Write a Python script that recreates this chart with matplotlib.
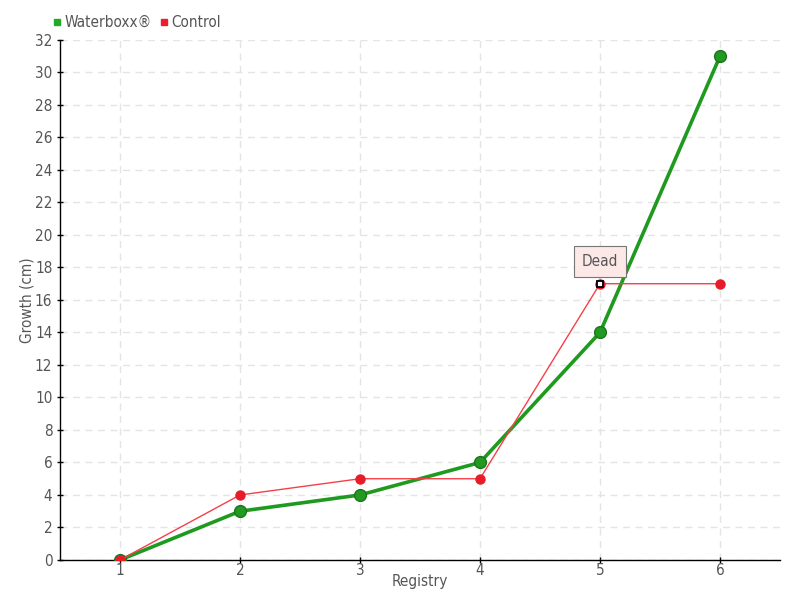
import matplotlib
matplotlib.use("Agg")
import matplotlib.pyplot as plt
from matplotlib.lines import Line2D

registry = [1, 2, 3, 4, 5, 6]
waterboxx = [0, 3, 4, 6, 14, 31]
control = [0, 4, 5, 5, 17, 17]
yticks = list(range(0, 33, 2))
annot_label = "Dead"
annot_index = 4

txt = "#555555"
fs = dict(fontstretch="condensed", family="DejaVu Sans")

fig = plt.figure(figsize=(8, 6), dpi=100)
ax = fig.add_axes([0.075, 0.0667, 0.9, 0.8667])

ax.plot(registry, waterboxx, color="#1e9a1e", lw=2.6, marker="o", ms=8.5,
        mfc="#229922", mec="#1a751a", mew=1.0, zorder=3, label="Waterboxx®")
ax.plot(registry, control, color="#f5404a", lw=1.0, marker="o", ms=6.5,
        mfc="#e81c28", mec="#e81c28", zorder=4, label="Control")

# dead marker
ax.plot([registry[annot_index]], [control[annot_index]], marker="s", ms=5,
        mfc="white", mec="black", mew=1.3, zorder=6, ls="none")

ax.annotate(annot_label, xy=(registry[annot_index], control[annot_index]),
            xytext=(0, 16), textcoords="offset points", ha="center", va="center",
            fontsize=11, color=txt, zorder=7, **fs,
            bbox=dict(boxstyle="square,pad=0.5", fc="#fde8e8", ec="#777777", lw=0.8),
            arrowprops=dict(arrowstyle="-", color="#777777", lw=0.8, shrinkA=0, shrinkB=4))

ax.set_xlim(0.5, 6.5)
ax.set_ylim(0, 32)
ax.set_xticks(registry)
ax.set_yticks(yticks)
ax.grid(True, color="#e4e4e4", ls=(0, (5, 4)), lw=1.0)
ax.set_axisbelow(True)
for s in ["top", "right"]:
    ax.spines[s].set_visible(False)
for s in ["left", "bottom"]:
    ax.spines[s].set_color("black")
    ax.spines[s].set_linewidth(1.0)
ax.tick_params(axis="both", colors=txt, labelsize=11, length=4, width=1,
               direction="inout", color="black")
ax.tick_params(axis="x", pad=0)
for lab in ax.get_xticklabels() + ax.get_yticklabels():
    lab.set_fontstretch("condensed")

ax.set_xlabel("Registry", color=txt, fontsize=11, labelpad=-1, **fs)
ax.set_ylabel("Growth (cm)", color=txt, fontsize=11, labelpad=-1, **fs)
ax.yaxis.set_label_coords(-0.036, 0.5)
ax.xaxis.set_label_coords(0.5, -0.027)

handles = [Line2D([], [], ls="none", marker="s", ms=5, color="#22aa22"),
           Line2D([], [], ls="none", marker="s", ms=5, color="#ee1c30")]
leg = fig.legend(handles, ["Waterboxx®", "Control"], loc="upper left",
                 bbox_to_anchor=(0.05, 0.998), ncol=2, frameon=False,
                 handlelength=0.4, handletextpad=0.3, columnspacing=0.6,
                 prop=dict(size=11, stretch="condensed"))
for t in leg.get_texts():
    t.set_color(txt)

fig.savefig("out.png", dpi=100)
